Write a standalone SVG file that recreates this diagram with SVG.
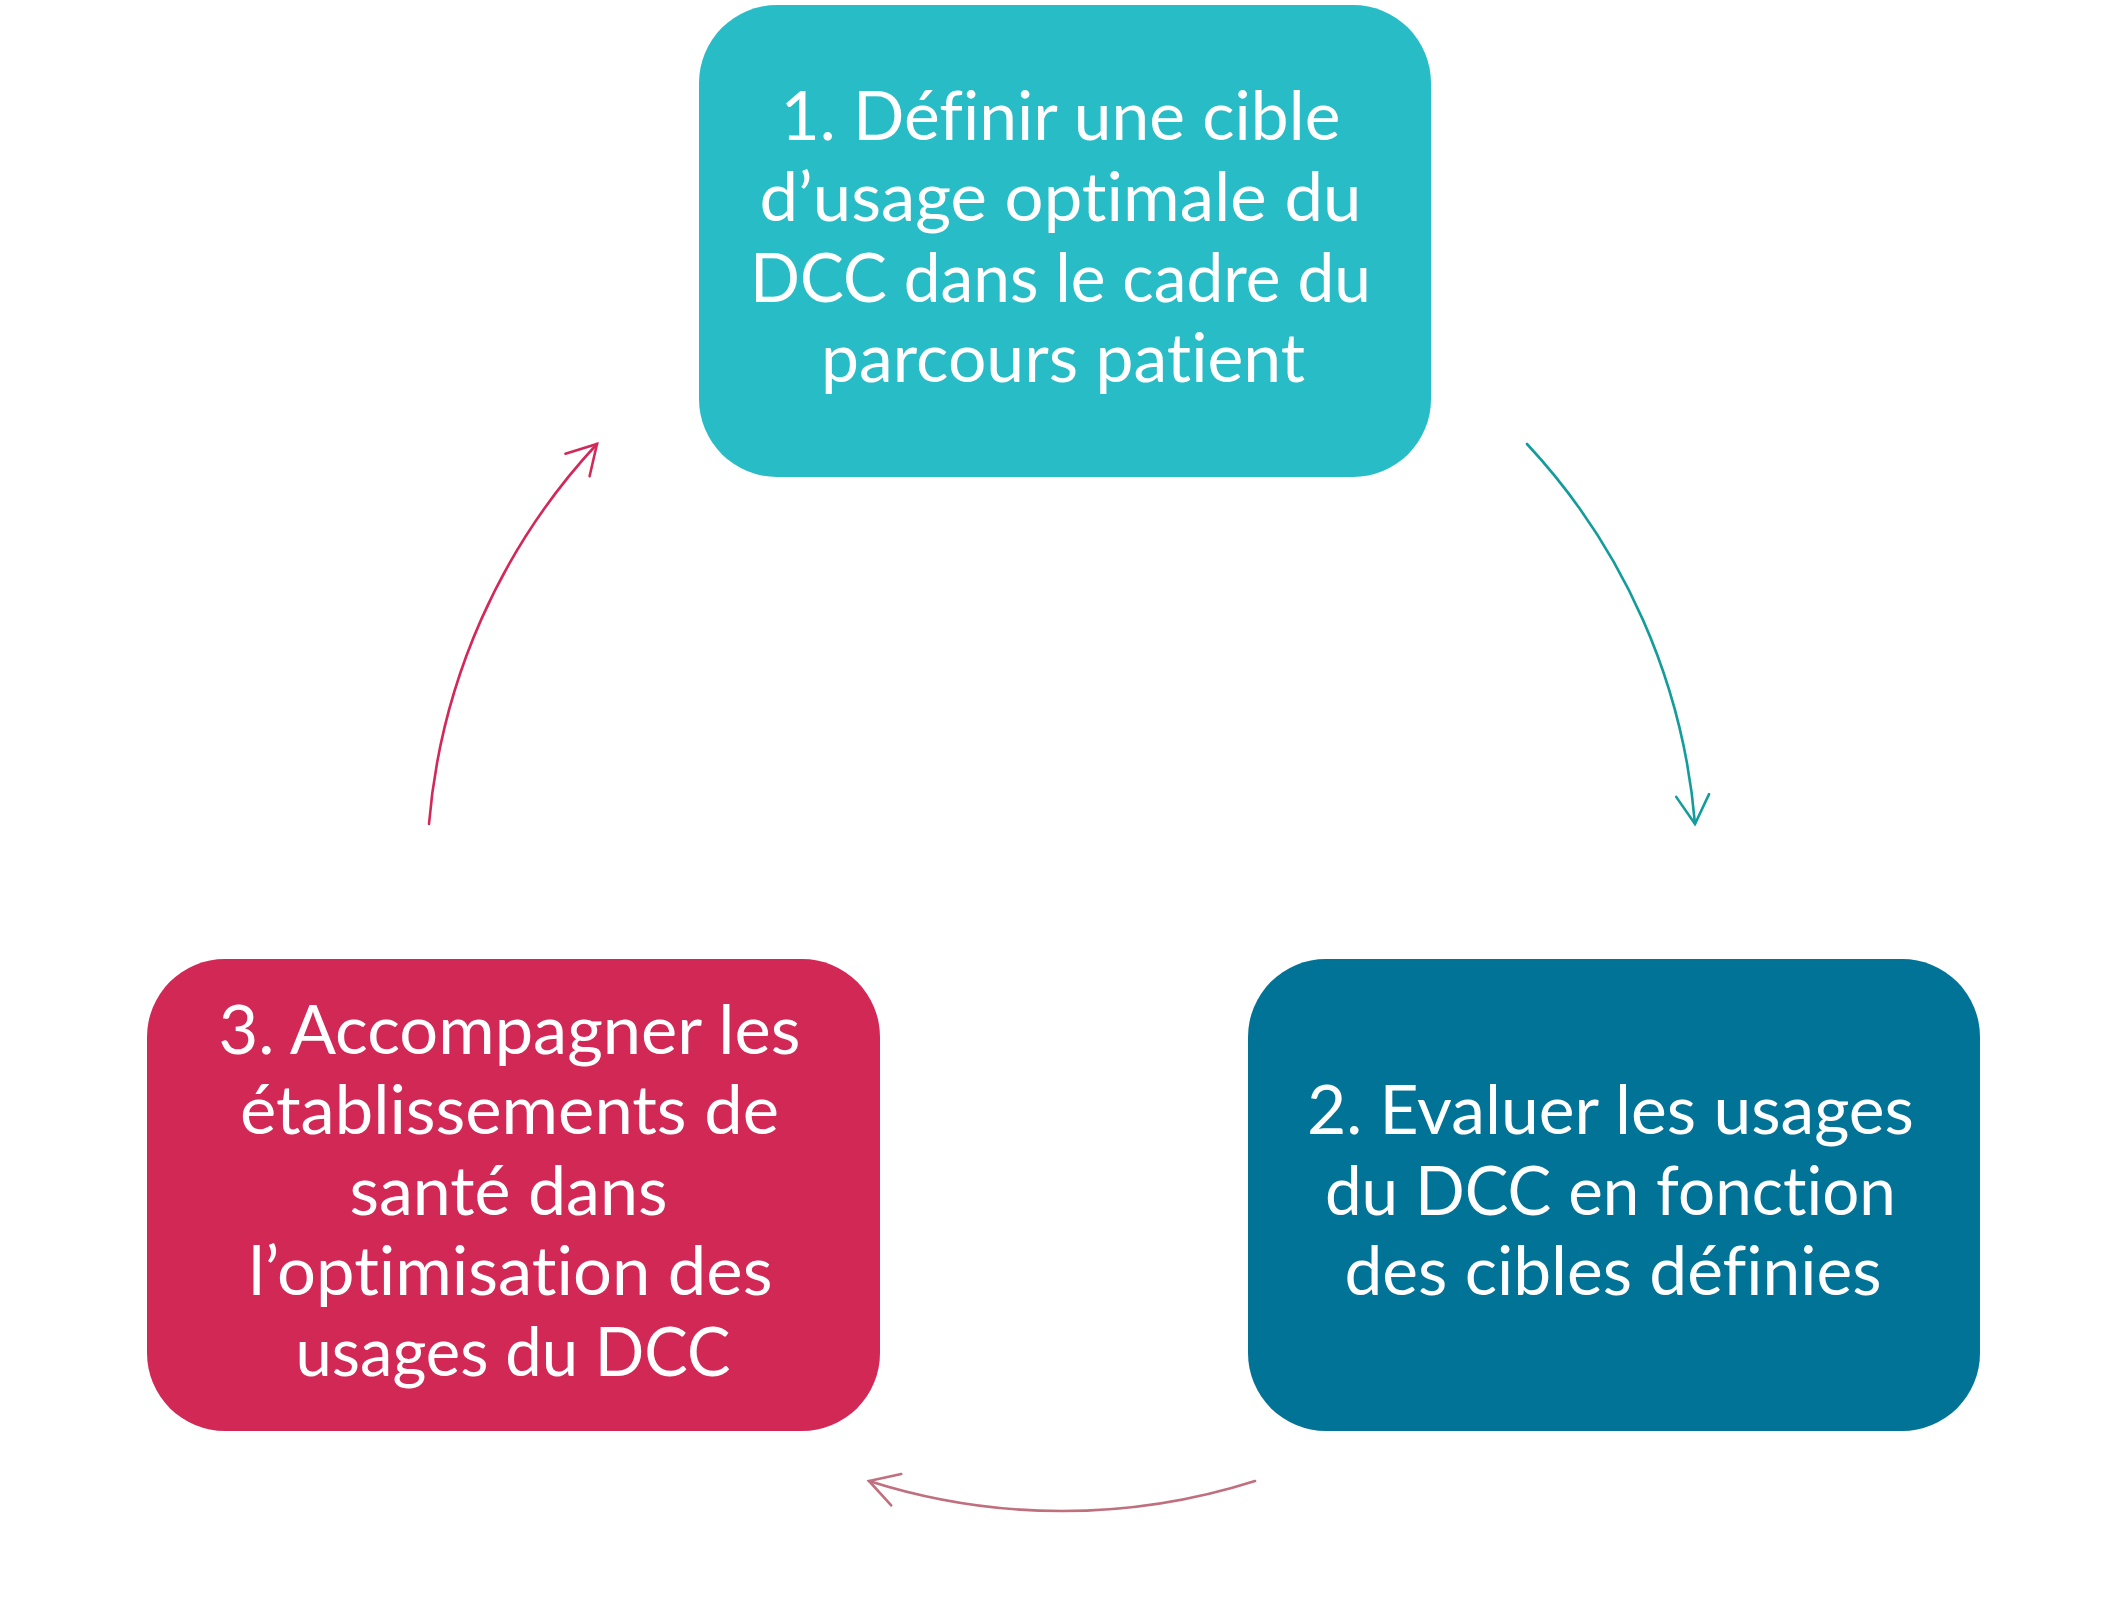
<svg xmlns="http://www.w3.org/2000/svg" width="2123" height="1601" viewBox="0 0 2123 1601">
  <style>
    .box { stroke: none; }
    .label { font-family: Lato, "Open Sans", "Liberation Sans", sans-serif; font-size: 67px; fill: #FFFFFF; text-anchor: middle; font-variant-ligatures: none; font-feature-settings: "liga" 0, "clig" 0; }
    .arc { fill: none; stroke-width: 2.6; stroke-linecap: round; }
  </style>
  <defs>
    <marker id="headTeal" markerUnits="userSpaceOnUse" markerWidth="40" markerHeight="40" viewBox="-32 -20 36 40" refX="0" refY="0" orient="auto">
      <path d="M -28.6 -16.5 L 0 0 L -28.6 16.5" fill="none" stroke="#149C9C" stroke-width="2.6" stroke-linecap="round" stroke-linejoin="miter"/>
    </marker>
    <marker id="headPink" markerUnits="userSpaceOnUse" markerWidth="40" markerHeight="40" viewBox="-32 -20 36 40" refX="0" refY="0" orient="auto">
      <path d="M -28.6 -16.5 L 0 0 L -28.6 16.5" fill="none" stroke="#C06F7E" stroke-width="2.6" stroke-linecap="round" stroke-linejoin="miter"/>
    </marker>
    <marker id="headRed" markerUnits="userSpaceOnUse" markerWidth="40" markerHeight="40" viewBox="-32 -20 36 40" refX="0" refY="0" orient="auto">
      <path d="M -28.6 -16.5 L 0 0 L -28.6 16.5" fill="none" stroke="#D2285A" stroke-width="2.6" stroke-linecap="round" stroke-linejoin="miter"/>
    </marker>
  </defs>
  <rect width="2123" height="1601" fill="#FFFFFF"/>

  <g id="connectors">
    <path id="arc-1-2" class="arc" stroke="#149C9C" d="M 1527 444 A 635 635 0 0 1 1695 824" marker-end="url(#headTeal)"/>
    <path id="arc-2-3" class="arc" stroke="#C06F7E" d="M 1255 1481 A 635 635 0 0 1 869 1481" marker-end="url(#headPink)"/>
    <path id="arc-3-1" class="arc" stroke="#D2285A" d="M 429 824 A 635 635 0 0 1 597 444" marker-end="url(#headRed)"/>
  </g>

  <g id="node1">
    <rect class="box" x="699" y="5" width="732" height="472" rx="78" ry="78" fill="#27BCC6"/>
    <text class="label">
      <tspan x="1069" y="140" textLength="560" lengthAdjust="spacingAndGlyphs">1. Définir une cible</tspan>
      <tspan x="1069" y="221" textLength="602" lengthAdjust="spacingAndGlyphs">d’usage optimale du</tspan>
      <tspan x="1069" y="302" textLength="621" lengthAdjust="spacingAndGlyphs">DCC dans le cadre du</tspan>
      <tspan x="1063" y="382" textLength="484" lengthAdjust="spacingAndGlyphs">parcours patient</tspan>
    </text>
  </g>

  <g id="node2">
    <rect class="box" x="1248" y="959" width="732" height="472" rx="78" ry="78" fill="#007396"/>
    <text class="label">
      <tspan x="1619" y="1134" textLength="607" lengthAdjust="spacingAndGlyphs">2. Evaluer les usages</tspan>
      <tspan x="1619" y="1215" textLength="571" lengthAdjust="spacingAndGlyphs">du DCC en fonction</tspan>
      <tspan x="1613" y="1295" textLength="537" lengthAdjust="spacingAndGlyphs">des cibles définies</tspan>
    </text>
  </g>

  <g id="node3">
    <rect class="box" x="147" y="959" width="733" height="472" rx="78" ry="78" fill="#D12856"/>
    <text class="label">
      <tspan x="518" y="1054" textLength="582" lengthAdjust="spacingAndGlyphs">3. Accompagner les</tspan>
      <tspan x="518" y="1134" textLength="539" lengthAdjust="spacingAndGlyphs">établissements de</tspan>
      <tspan x="517" y="1215" textLength="318" lengthAdjust="spacingAndGlyphs">santé dans</tspan>
      <tspan x="519" y="1295" textLength="524" lengthAdjust="spacingAndGlyphs">l’optimisation des</tspan>
      <tspan x="513" y="1376" textLength="435" lengthAdjust="spacingAndGlyphs">usages du DCC</tspan>
    </text>
  </g>
</svg>
